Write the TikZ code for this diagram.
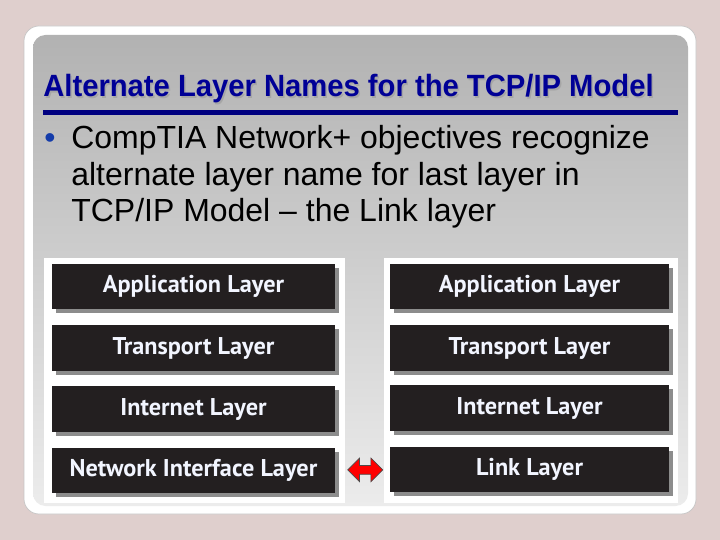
\documentclass[tikz,border=0pt]{standalone}
\usepackage{fontspec}
\usetikzlibrary{shadows,shapes.arrows,calc}
\newfontfamily\titlefont[FakeStretch=0.95]{Liberation Sans}
\newfontfamily\bodyfont{Liberation Sans}
\newfontfamily\layerfont{PT Sans}
\definecolor{slidebg}{RGB}{223,207,205}
\definecolor{paneltop}{RGB}{178,178,178}
\definecolor{panelbottom}{RGB}{236,236,236}
\definecolor{titleblue}{RGB}{0,0,150}
\definecolor{rulenavy}{RGB}{0,0,128}
\definecolor{bulletblue}{RGB}{20,60,170}
\definecolor{layerblack}{RGB}{35,31,32}
\definecolor{layershadow}{RGB}{140,140,140}
\definecolor{layertext}{RGB}{242,245,255}

\tikzset{
	layerbox/.style = {fill=layerblack, minimum height=0.92cm, inner sep=0pt,
		text=layertext, font=\layerfont\bfseries\fontsize{13.8}{15}\selectfont,
		drop shadow={shadow xshift=0.08cm, shadow yshift=-0.08cm,
			fill=layershadow, opacity=1}},
	linkarrow/.style = {double arrow, fill=red, draw=black!70, thin,
		inner sep=0.08cm, minimum height=0.7cm,
		double arrow head extend=0.15cm, double arrow head indent=0pt}
}

\begin{document}
\begin{tikzpicture}[x=0.02cm, y=-0.02cm]
	\useasboundingbox (0,0) rectangle (720,540);
	\fill[slidebg] (0,0) rectangle (720,540);
	% slide frame
	\fill[white, draw=gray!45, rounded corners=0.3cm] (24,26) rectangle (696,514);
	\shade[rounded corners=0.25cm, top color=paneltop, bottom color=panelbottom]
		(33,35) rectangle (688,506);
	% title
	\begin{scope}[every node/.style = {anchor=base west, inner sep=0pt,
			font=\titlefont\bfseries\fontsize{17.5}{20}\selectfont}]
		\node[text=gray!70] (titleshadow) at (44.5,98.5) {Alternate Layer Names for the TCP/IP Model};
		\node[text=titleblue] (title) at (43,97) {Alternate Layer Names for the TCP/IP Model};
	\end{scope}
	\draw[rulenavy, line width=0.1cm] (43,113) -- (678,113);
	% bullet
	\begin{scope}[every node/.style = {anchor=base west, inner sep=0pt,
			font=\bodyfont\fontsize{18.2}{22}\selectfont}]
		\node[text=bulletblue] (bullet) at (44,149) {\textbullet};
		\node (line1) at (71,149) {CompTIA Network+ objectives recognize};
		\node (line2) at (71,186) {alternate layer name for last layer in};
		\node (line3) at (71,222) {TCP/IP Model – the Link layer};
	\end{scope}
	% white panels
	\fill[white] (44,258) rectangle (345,503);
	\fill[white] (384,258) rectangle (678,503);
	% TCP/IP layers
	\begin{scope}[every node/.style = {layerbox, minimum width=5.66cm}]
		\node (appl) at (193.5,286.5) {Application Layer};
		\node (tranl) at (193.5,348) {Transport Layer};
		\node (inetl) at (193.5,409) {Internet Layer};
		\node (netif) at (193.5,470.5) {Network Interface Layer};
	\end{scope}
	\begin{scope}[every node/.style = {layerbox, minimum width=5.58cm}]
		\node (appr) at (529.5,286.5) {Application Layer};
		\node (tranr) at (529.5,348) {Transport Layer};
		\node (inetr) at (529.5,408) {Internet Layer};
		\node (link) at (529.5,469.5) {Link Layer};
	\end{scope}
	\node[linkarrow] (swap) at ($(netif.east)!0.55!(link.west)$) {};
\end{tikzpicture}
\end{document}
